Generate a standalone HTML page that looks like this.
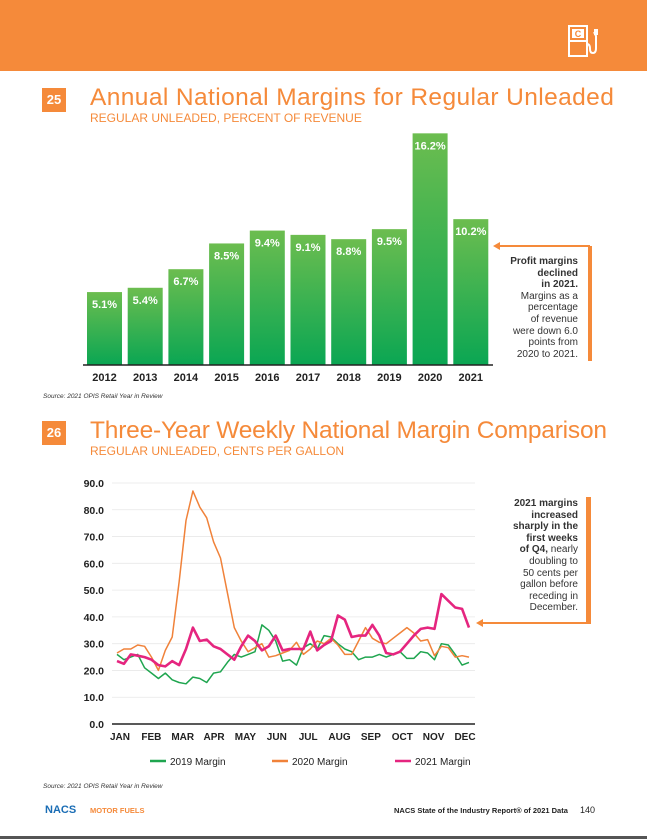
<!DOCTYPE html>
<html><head><meta charset="utf-8">
<style>
body{margin:0;width:647px;height:839px;position:relative;background:#fff;font-family:"Liberation Sans",sans-serif;overflow:hidden}
.abs{position:absolute}
.num{position:absolute;background:#f58a3a;color:#fff;font-weight:bold;font-size:13px;text-align:center;line-height:24px;width:24px;height:24px}
.title{position:absolute;color:#f58a3a;font-size:24.5px;white-space:nowrap;letter-spacing:-0.2px}
.sub{position:absolute;color:#f58a3a;font-size:12px;white-space:nowrap}
.callout{position:absolute;text-align:right;font-size:10px;line-height:11.6px;color:#333}
.src{position:absolute;font-size:6.5px;font-style:italic;color:#333}
</style></head><body>
<div class="abs" style="left:0;top:0;width:647px;height:71px;background:#f58a3a"></div>
<svg class="abs" style="left:566px;top:20px" width="40" height="40" viewBox="0 0 40 40">
<rect x="3" y="6" width="18" height="30" fill="none" stroke="#fff" stroke-width="2"/>
<rect x="6" y="9" width="12" height="9" fill="#fff"/>
<text x="12" y="17" fill="#f58a3a" font-size="9" font-weight="bold" text-anchor="middle" font-family="Liberation Sans">C</text>
<line x1="3" y1="21" x2="21" y2="21" stroke="#fff" stroke-width="2"/>
<path d="M21 24 Q24 24 24 29 Q24 33 27 33 Q30 33 30 28 L30 16 L28 12" fill="none" stroke="#fff" stroke-width="2"/>
<rect x="28" y="9" width="4" height="6" fill="#fff"/>
</svg>

<div class="num" style="left:42px;top:88px">25</div>
<div class="title" style="left:90px;top:84px;letter-spacing:0.4px">Annual National Margins for Regular Unleaded</div>
<div class="sub" style="left:90px;top:111px">REGULAR UNLEADED, PERCENT OF REVENUE</div>

<svg class="abs" id="bars" style="left:0;top:0" width="647" height="400"></svg>

<div class="callout" style="left:490px;top:256px;width:88px"><b>Profit margins<br>declined<br>in 2021.</b><br>Margins as a<br>percentage<br>of revenue<br>were down 6.0<br>points from<br>2020 to 2021.</div>
<div class="src" style="left:43px;top:393px">Source: 2021 OPIS Retail Year in Review</div>

<div class="num" style="left:42px;top:421px">26</div>
<div class="title" style="left:90px;top:417px">Three-Year Weekly National Margin Comparison</div>
<div class="sub" style="left:90px;top:444px">REGULAR UNLEADED, CENTS PER GALLON</div>

<svg class="abs" id="lines" style="left:0;top:0" width="647" height="780"></svg>

<div class="callout" style="left:470px;top:498px;width:108px"><b>2021 margins<br>increased<br>sharply in the<br>first weeks<br>of Q4,</b> nearly<br>doubling to<br>50 cents per<br>gallon before<br>receding in<br>December.</div>
<div class="src" style="left:43px;top:783px">Source: 2021 OPIS Retail Year in Review</div>

<div class="abs" style="left:45px;top:804px;font-size:11px;font-weight:bold;color:#1a6db5">NACS</div>
<div class="abs" style="left:90px;top:806px;font-size:7.5px;font-weight:bold;color:#f58a3a">MOTOR FUELS</div>
<div class="abs" style="left:394px;top:806px;font-size:7.5px;font-weight:bold;color:#222">NACS State of the Industry Report® of 2021 Data</div>
<div class="abs" style="left:580px;top:805px;font-size:9px;color:#222">140</div>
<div class="abs" style="left:0;top:836px;width:647px;height:3px;background:#555"></div>

<script>
const years=['2012','2013','2014','2015','2016','2017','2018','2019','2020','2021'];
const margins=[5.1,5.4,6.7,8.5,9.4,9.1,8.8,9.5,16.2,10.2];

const months=['JAN','FEB','MAR','APR','MAY','JUN','JUL','AUG','SEP','OCT','NOV','DEC'];
const yTicks=[0,10,20,30,40,50,60,70,80,90];
const s2019=[26,24,25,26,21,19,17,19,16.5,15.5,15,17.5,17,15.5,19,19.5,23,26,25,26,27,37,35,31,23.5,24,22,28.5,30,28,33,32.5,30,28,27,24,25,25,26,25,26,27,24.5,24.5,27,26.5,24,30,29.5,26,22,23];
const s2020=[26.5,28,28,29.5,29,25,20,27.5,32.5,53,76,87,81,77,68,62,49,36,31,27,28.5,30,25,25.5,26.5,27.5,30.5,26,28,31,30,32,29.5,26,26,31,36,32,30.5,30,32,34,36,34,31,31.5,25.5,29,28.5,25,25.5,25];
const s2021=[23.5,22.5,26,25.5,25,24,22,21.5,23.5,22,28,36,31,31.5,29,28,26,24,29,33,31,27.5,29,33,27.5,28,28,28,34.5,27.5,29.5,31,40.5,39,32.5,33,33,37,33,26.5,26,27,30,33,35.5,36,35.5,48.5,46,43.5,43,36];

const NS='http://www.w3.org/2000/svg';
function mk(svg,tag,attrs){const e=document.createElementNS(NS,tag);for(const k in attrs)e.setAttribute(k,attrs[k]);svg.appendChild(e);return e;}

// ---- bar chart
const B=document.getElementById('bars');
const defs=mk(B,'defs',{});
const g=mk(defs,'linearGradient',{id:'gg',x1:0,y1:0,x2:0,y2:1});
mk(g,'stop',{offset:'0','stop-color':'#6cbd4f'});
mk(g,'stop',{offset:'1','stop-color':'#0aa653'});
const base=365, perUnit=14.3, bx0=87, step=40.7, bw=35;
function barX(i){return bx0+i*step;}
function barY(v){return base-v*perUnit;}
margins.forEach((v,i)=>{
  const r=mk(B,'rect',{x:barX(i),y:barY(v),width:bw,height:base-barY(v),fill:'url(#gg)'});
  
  
  const t=mk(B,'text',{x:barX(i)+bw/2,y:barY(v)+16,'text-anchor':'middle','font-size':'11','font-weight':'bold',fill:'#fff'});
  t.textContent=v.toFixed(1)+'%';
  
  
  const yl=mk(B,'text',{x:barX(i)+bw/2,y:base+16,'text-anchor':'middle','font-size':'11','font-weight':'bold',fill:'#222'});
  yl.textContent=years[i];
  
  
});
mk(B,'line',{x1:83,y1:base,x2:493,y2:base,stroke:'#222','stroke-width':1.5});
mk(B,'rect',{x:588,y:246,width:4,height:115,fill:'#f58a3a'});
mk(B,'line',{x1:498,y1:246,x2:590,y2:246,stroke:'#f58a3a','stroke-width':2});
mk(B,'path',{d:'M493 246 L500 242 L500 250 Z',fill:'#f58a3a'});

// ---- line chart
const L=document.getElementById('lines');
const y0=724, y90=483, xL=117, xR=469;
function ly(v){return y0-(v/90)*(y0-y90);}
function lx(i,n){return xL+i*(xR-xL)/(n-1);}
yTicks.forEach(t=>{
  if(t>0) mk(L,'line',{x1:112,y1:ly(t),x2:475,y2:ly(t),stroke:'#e8e8e8','stroke-width':0.8});
  const tx=mk(L,'text',{x:104,y:ly(t)+4,'text-anchor':'end','font-size':'10.5','font-weight':'bold',fill:'#222'});
  tx.textContent=t.toFixed(1);
  
  
});
mk(L,'line',{x1:112,y1:y0,x2:475,y2:y0,stroke:'#222','stroke-width':1.5});
months.forEach((m,i)=>{
  const tx=mk(L,'text',{x:120+i*(465-120)/11,y:740,'text-anchor':'middle','font-size':'10','font-weight':'bold',fill:'#222'});
  tx.textContent=m;
  
  
});
function series(arr,col,w,name){
  const d=arr.map((v,i)=>(i?'L':'M')+lx(i,arr.length).toFixed(1)+' '+ly(v).toFixed(1)).join(' ');
  const p=mk(L,'path',{d:d,fill:'none',stroke:col,'stroke-width':w,'stroke-linejoin':'round'});
  
  
}
series(s2019,'#1fa54f',1.5,'line-2019');
series(s2020,'#f0823a',1.5,'line-2020');
series(s2021,'#e5257f',2.6,'line-2021');
const leg=[['2019 Margin','#1fa54f',150],['2020 Margin','#f0823a',272],['2021 Margin','#e5257f',395]];
leg.forEach(l=>{
  mk(L,'line',{x1:l[2],y1:761,x2:l[2]+16,y2:761,stroke:l[1],'stroke-width':2.5});
  const t=mk(L,'text',{x:l[2]+20,y:765,'font-size':'10',fill:'#222'});
  t.textContent=l[0];
  
  
});
mk(L,'rect',{x:586,y:497,width:5,height:127,fill:'#f58a3a'});
mk(L,'line',{x1:482,y1:623,x2:590,y2:623,stroke:'#f58a3a','stroke-width':2});
mk(L,'path',{d:'M476 623 L483 619 L483 627 Z',fill:'#f58a3a'});
</script>
</body></html>
